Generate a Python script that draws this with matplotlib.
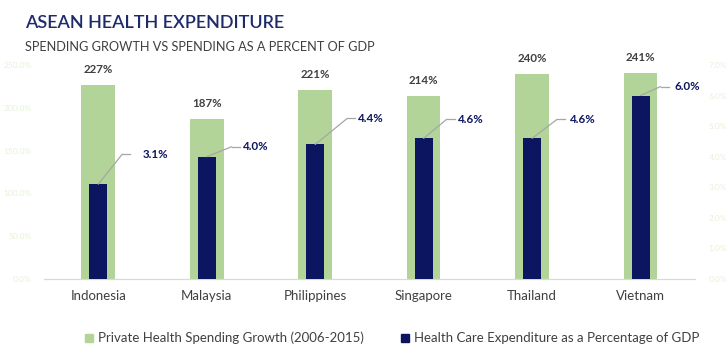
import matplotlib.pyplot as plt
from matplotlib.patches import Patch

plt.rcParams['font.family'] = ['Lato', 'DejaVu Sans']

countries = ["Indonesia", "Malaysia", "Philippines", "Singapore", "Thailand", "Vietnam"]
spending_growth = [227, 187, 221, 214, 240, 241]  # % growth 2006-2015
gdp_share = [3.1, 4.0, 4.4, 4.6, 4.6, 6.0]  # % of GDP

left_ticks = [0, 50, 100, 150, 200, 250]
right_ticks = [0, 1, 2, 3, 4, 5, 6, 7]

GREEN = "#B2D498"
NAVY = "#0C1560"
GREY_TXT = "#404040"
PALE = "#E6F2D8"
LEADER = "#A6A6A6"

# leader line offsets in pixels: (diagonal dx, rise, text dx)
leaders = [(24, 30, 44), (25, 10, 36), (32, 26, 43), (23, 19, 34), (25, 19, 38), (20, 9, 34)]

fig = plt.figure(figsize=(7.26, 3.59), dpi=100)
ax = fig.add_axes([0.0606, 0.2228, 0.8964, 0.5962])
ax2 = ax.twinx()

x = list(range(len(countries)))
ax.bar(x, spending_growth, width=0.31, color=GREEN, zorder=2)
ax2.bar(x, gdp_share, width=0.166, color=NAVY, zorder=3)

ax.set_xlim(-0.5, 5.5)
ax.set_ylim(0, 250)
ax2.set_ylim(0, 7)

for i, v in enumerate(spending_growth):
    ax.annotate(f"{v}%", (i, v), xytext=(0, 15), textcoords="offset pixels",
                ha="center", va="center", fontsize=8.3, fontweight="bold", color=GREY_TXT)

for i, v in enumerate(gdp_share):
    dx, dy, tx = leaders[i]
    ax2.annotate("", xy=(i, v), xytext=(dx, dy), textcoords="offset pixels",
                 arrowprops=dict(arrowstyle="-", color=LEADER, lw=0.9, shrinkA=0, shrinkB=0))
    ax2.annotate(f"{v:.1f}%", (i, v), xytext=(tx, dy), textcoords="offset pixels",
                 ha="left", va="center", fontsize=8.3, fontweight="bold", color=NAVY)

# short horizontal stubs of the leaders, placed in pixels once layout is fixed
fig.canvas.draw()
for i, v in enumerate(gdp_share):
    dx, dy, tx = leaders[i]
    px, py = ax2.transData.transform((i, v))
    fig.add_artist(plt.Line2D([px + dx, px + dx + 8], [py + dy, py + dy], transform=None,
                              color=LEADER, lw=0.9))

ax.set_xticks(x)
ax.set_xticklabels(countries, fontsize=9.5, color=GREY_TXT)
ax.tick_params(axis="x", length=0, pad=8)
ax.set_yticks(left_ticks)
ax.set_yticklabels([f"{t:.1f}%" for t in left_ticks], fontsize=6, color=PALE)
ax.tick_params(axis="y", length=0, pad=9)
ax2.set_yticks(right_ticks)
ax2.set_yticklabels([f"{t:.1f}%" for t in right_ticks], fontsize=6, color=PALE)
ax2.tick_params(axis="y", length=0, pad=10)

for a in (ax, ax2):
    for s in ("top", "left", "right"):
        a.spines[s].set_visible(False)
    a.spines["bottom"].set_color("#D9D9D9")

fig.text(0.034, 0.936, "ASEAN HEALTH EXPENDITURE", fontsize=13, fontweight="semibold",
         color="#1F2A6B", ha="left", va="center")
fig.text(0.034, 0.869, "SPENDING GROWTH VS SPENDING AS A PERCENT OF GDP", fontsize=9.2,
         color=GREY_TXT, ha="left", va="center")

handles = [Patch(color=GREEN, label="Private Health Spending Growth (2006-2015)"),
           Patch(color=NAVY, label="Health Care Expenditure as a Percentage of GDP")]
leg = fig.legend(handles=handles, loc="center", bbox_to_anchor=(0.54, 0.058), ncol=2,
                 frameon=False, fontsize=9.5, handlelength=0.6, handleheight=0.6,
                 handletextpad=0.4, columnspacing=2.8)
for t in leg.get_texts():
    t.set_color(GREY_TXT)

fig.savefig("out.png", dpi=100)
